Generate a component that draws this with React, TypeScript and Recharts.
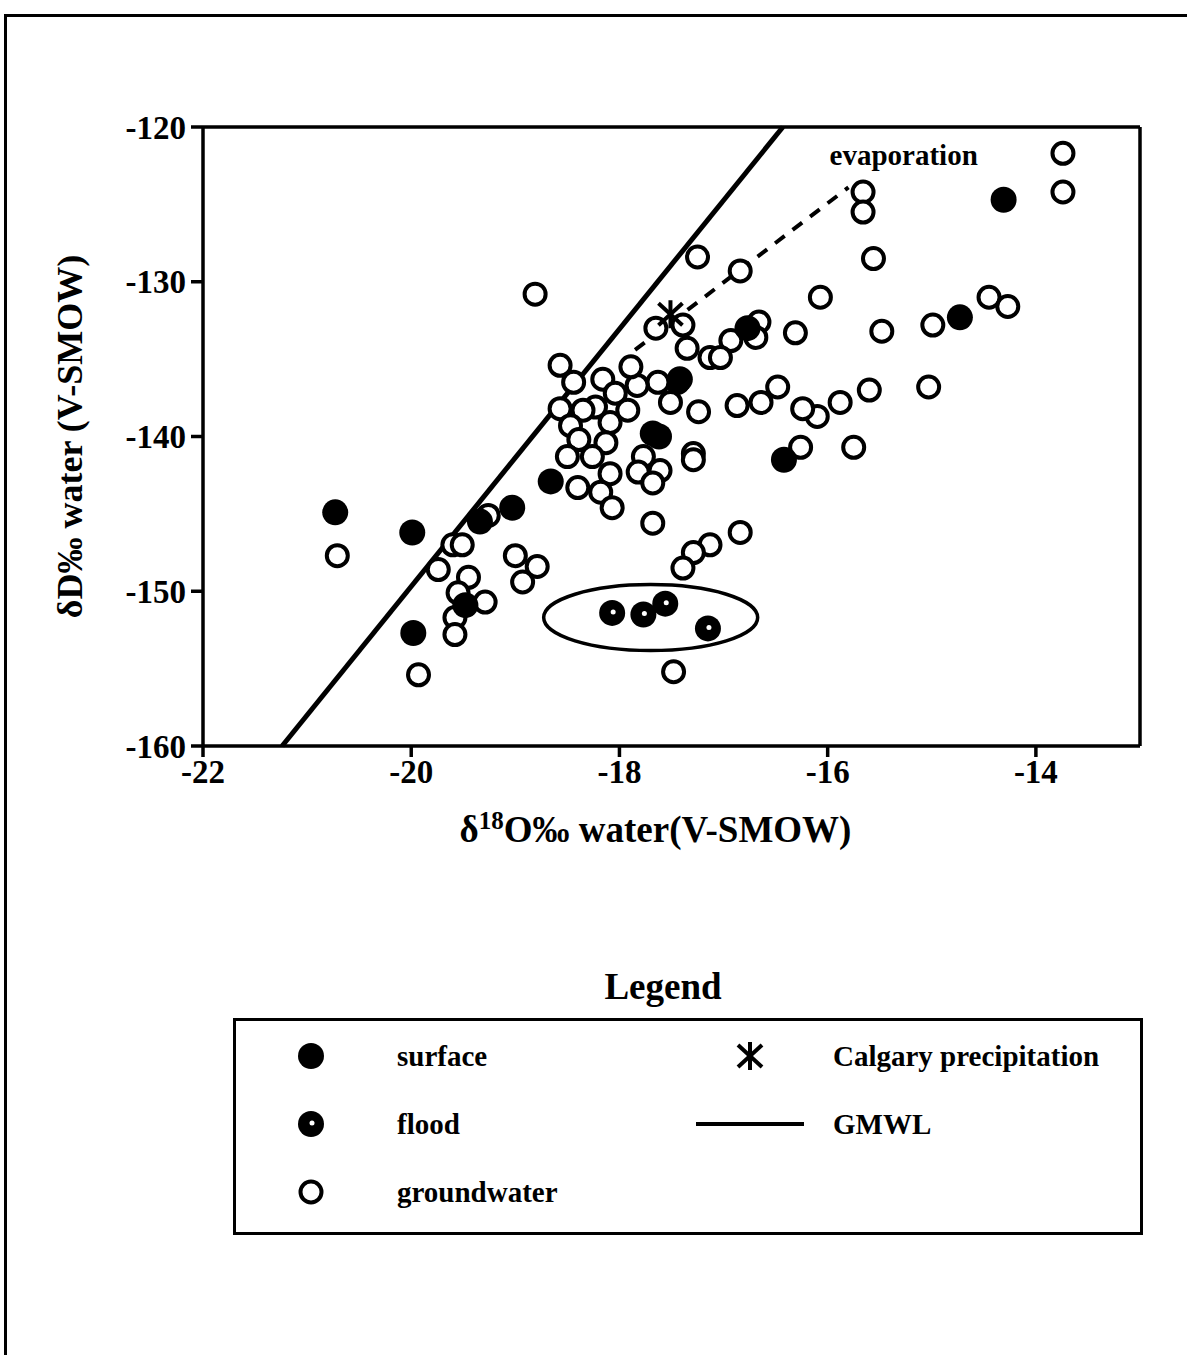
import { ScatterChart, Scatter, XAxis, YAxis, ReferenceLine, ReferenceDot } from 'recharts';

const FONT = '"Liberation Serif", "Times New Roman", serif';

// δ18O (x) and δD (y), ‰ V-SMOW
const surface = [
  { x: -20.73, y: -144.9 }, { x: -19.99, y: -146.2 }, { x: -19.34, y: -145.5 },
  { x: -19.03, y: -144.6 }, { x: -19.48, y: -150.9 }, { x: -19.98, y: -152.7 },
  { x: -18.66, y: -142.9 }, { x: -17.68, y: -139.8 }, { x: -17.62, y: -140.0 },
  { x: -17.42, y: -136.3 }, { x: -16.77, y: -133.0 }, { x: -16.42, y: -141.5 },
  { x: -14.73, y: -132.3 }, { x: -14.31, y: -124.7 },
];

const flood = [
  { x: -18.07, y: -151.4 }, { x: -17.77, y: -151.5 },
  { x: -17.56, y: -150.8 }, { x: -17.15, y: -152.4 },
];

const groundwater = [
  { x: -13.74, y: -121.7 }, { x: -13.74, y: -124.2 }, { x: -15.66, y: -124.2 },
  { x: -15.66, y: -125.5 }, { x: -15.56, y: -128.5 }, { x: -17.25, y: -128.4 },
  { x: -16.84, y: -129.3 }, { x: -18.81, y: -130.8 }, { x: -16.07, y: -131.0 },
  { x: -14.45, y: -131.0 }, { x: -14.27, y: -131.6 }, { x: -14.99, y: -132.8 },
  { x: -15.48, y: -133.2 }, { x: -16.31, y: -133.3 }, { x: -16.66, y: -132.6 },
  { x: -16.69, y: -133.6 }, { x: -16.93, y: -133.8 }, { x: -17.13, y: -134.9 },
  { x: -17.03, y: -134.9 }, { x: -17.35, y: -134.3 }, { x: -17.65, y: -133.0 },
  { x: -17.39, y: -132.8 }, { x: -15.6, y: -137.0 }, { x: -15.03, y: -136.8 },
  { x: -15.88, y: -137.8 }, { x: -15.75, y: -140.7 }, { x: -16.26, y: -140.7 },
  { x: -16.1, y: -138.7 }, { x: -16.24, y: -138.2 }, { x: -16.48, y: -136.8 },
  { x: -16.64, y: -137.8 }, { x: -16.87, y: -138.0 }, { x: -17.24, y: -138.4 },
  { x: -17.29, y: -141.1 }, { x: -17.29, y: -141.5 }, { x: -17.44, y: -136.5 },
  { x: -17.63, y: -136.5 }, { x: -17.51, y: -137.8 }, { x: -17.83, y: -136.7 },
  { x: -17.89, y: -135.5 }, { x: -18.16, y: -136.3 }, { x: -18.04, y: -137.2 },
  { x: -17.92, y: -138.3 }, { x: -18.23, y: -138.1 }, { x: -18.44, y: -136.5 },
  { x: -18.57, y: -135.4 }, { x: -18.57, y: -138.2 }, { x: -18.35, y: -138.3 },
  { x: -18.47, y: -139.3 }, { x: -18.09, y: -139.1 }, { x: -18.39, y: -140.2 },
  { x: -18.13, y: -140.4 }, { x: -18.5, y: -141.3 }, { x: -18.26, y: -141.3 },
  { x: -18.09, y: -142.4 }, { x: -17.77, y: -141.3 }, { x: -17.82, y: -142.3 },
  { x: -17.61, y: -142.2 }, { x: -17.68, y: -143.0 }, { x: -18.4, y: -143.3 },
  { x: -18.18, y: -143.6 }, { x: -18.07, y: -144.6 }, { x: -17.68, y: -145.6 },
  { x: -16.84, y: -146.2 }, { x: -17.13, y: -147.0 }, { x: -17.29, y: -147.5 },
  { x: -17.39, y: -148.5 }, { x: -17.48, y: -155.2 }, { x: -20.71, y: -147.7 },
  { x: -19.6, y: -147.0 }, { x: -19.51, y: -147.0 }, { x: -19.26, y: -145.1 },
  { x: -19.74, y: -148.6 }, { x: -19.45, y: -149.1 }, { x: -19.55, y: -150.1 },
  { x: -19.29, y: -150.7 }, { x: -19.58, y: -151.7 }, { x: -19.58, y: -152.8 },
  { x: -19.93, y: -155.4 }, { x: -19.0, y: -147.7 }, { x: -18.79, y: -148.4 },
  { x: -18.93, y: -149.4 },
];

const calgary = [{ x: -17.51, y: -132.1 }];

const gmwl = [{ x: -21.24, y: -160 }, { x: -16.43, y: -120 }];
const evaporationLine = [{ x: -17.85, y: -134.4 }, { x: -15.8, y: -123.9 }];
const evaporationLabel = { x: -15.27, y: -121.8 };
const floodGroup = { x: -17.7, y: -151.7 };

const xTicks = [-22, -20, -18, -16, -14];
const yTicks = [-160, -150, -140, -130, -120];

const legendLeft = [
  { name: 'surface', mark: 'surface' },
  { name: 'flood', mark: 'flood' },
  { name: 'groundwater', mark: 'groundwater' },
];
const legendRight = [
  { name: 'Calgary precipitation', mark: 'calgary' },
  { name: 'GMWL', mark: 'gmwl' },
];

const OpenDot = (p: any) => (
  <circle cx={p.cx} cy={p.cy} r={10.5} fill="#fff" stroke="#000" strokeWidth={4} />
);
const FilledDot = (p: any) => <circle cx={p.cx} cy={p.cy} r={13} fill="#000" />;
const FloodDot = (p: any) => (
  <g>
    <circle cx={p.cx} cy={p.cy} r={13} fill="#000" />
    <circle cx={p.cx + 1} cy={p.cy - 1} r={2.5} fill="#fff" />
  </g>
);
const StarMark = (p: any) => (
  <g stroke="#000" strokeWidth={4}>
    <line x1={p.cx} y1={p.cy - 14} x2={p.cx} y2={p.cy + 14} />
    <line x1={p.cx - 12} y1={p.cy - 11} x2={p.cx + 12} y2={p.cy + 11} />
    <line x1={p.cx - 12} y1={p.cy + 11} x2={p.cx + 12} y2={p.cy - 11} />
  </g>
);

function LegendMark({ mark }: { mark: string }) {
  const p = { cx: 60, cy: 20 };
  return (
    <svg width={120} height={40} style={{ display: 'block' }}>
      {mark === 'surface' && <FilledDot {...p} />}
      {mark === 'flood' && <FloodDot {...p} />}
      {mark === 'groundwater' && <OpenDot {...p} />}
      {mark === 'calgary' && <StarMark {...p} />}
      {mark === 'gmwl' && <line x1={6} y1={20} x2={114} y2={20} stroke="#000" strokeWidth={4} />}
    </svg>
  );
}

const tickStyle = { fontFamily: FONT, fontSize: 33, fontWeight: 'bold', fill: '#000' };

export default function App() {
  return (
    <div style={{ position: 'absolute', left: 0, top: 0, width: 1187, height: 1355, background: '#fff', overflow: 'hidden' }}>
      {/* page frame */}
      <div style={{ position: 'absolute', left: 4, top: 14, width: 1300, height: 1400, border: '3px solid #000' }} />

      <div style={{ position: 'absolute', left: 0, top: 0 }}>
        <ScatterChart width={1187} height={860} margin={{ top: 127, right: 47, left: 113, bottom: 0 }}>
          <XAxis
            type="number"
            dataKey="x"
            domain={[-22, -13]}
            ticks={xTicks}
            allowDataOverflow
            stroke="#000"
            strokeWidth={3.5}
            tickSize={11}
            tickMargin={3}
            tick={tickStyle}
            height={114}
            label={(props: any) => {
              const vb = props.viewBox;
              return (
                <text x={vb.x + vb.width / 2 - 16} y={vb.y + 96} textAnchor="middle"
                  style={{ fontFamily: FONT, fontSize: 37, fontWeight: 'bold' }} fill="#000">
                  δ<tspan fontSize={25} dy={-13}>18</tspan><tspan dy={13}>O‰ water(V-SMOW)</tspan>
                </text>
              );
            }}
          />
          <YAxis
            type="number"
            dataKey="y"
            domain={[-160, -120]}
            ticks={yTicks}
            allowDataOverflow
            stroke="#000"
            strokeWidth={3.5}
            tickSize={12}
            tickMargin={5}
            tick={tickStyle}
            width={90}
            label={(props: any) => {
              const vb = props.viewBox;
              const cx = vb.x - 43;
              const cy = vb.y + vb.height / 2;
              return (
                <text x={cx} y={cy} transform={`rotate(-90 ${cx} ${cy})`} textAnchor="middle"
                  dominantBaseline="central" style={{ fontFamily: FONT, fontSize: 36, fontWeight: 'bold' }} fill="#000">
                  δD‰ water (V-SMOW)
                </text>
              );
            }}
          />
          <ReferenceLine y={-120} stroke="#000" strokeWidth={3.5} />
          <ReferenceLine x={-13} stroke="#000" strokeWidth={3.5} />
          <ReferenceLine segment={gmwl} stroke="#000" strokeWidth={5} />
          <ReferenceLine segment={evaporationLine} stroke="#000" strokeWidth={4} strokeDasharray="12 10" />
          <ReferenceDot
            x={floodGroup.x}
            y={floodGroup.y}
            shape={(p: any) => (
              <ellipse cx={p.cx} cy={p.cy} rx={107} ry={33} fill="none" stroke="#000" strokeWidth={3.5} />
            )}
          />
          <ReferenceDot
            x={evaporationLabel.x}
            y={evaporationLabel.y}
            shape={(p: any) => (
              <text x={p.cx} y={p.cy} textAnchor="middle" dominantBaseline="central"
                style={{ fontFamily: FONT, fontSize: 29, fontWeight: 'bold' }} fill="#000">
                evaporation
              </text>
            )}
          />
          <Scatter name="groundwater" data={groundwater} shape={OpenDot} isAnimationActive={false} />
          <Scatter name="surface" data={surface} shape={FilledDot} isAnimationActive={false} />
          <Scatter name="flood" data={flood} shape={FloodDot} isAnimationActive={false} />
          <Scatter name="Calgary precipitation" data={calgary} shape={StarMark} isAnimationActive={false} />
        </ScatterChart>
      </div>

      {/* legend */}
      <div style={{ position: 'absolute', left: 563, top: 962, width: 200, textAlign: 'center', fontFamily: FONT, fontSize: 37, fontWeight: 'bold', lineHeight: '50px' }}>
        Legend
      </div>
      <div style={{ position: 'absolute', left: 233, top: 1018, width: 904, height: 211, border: '3px solid #000', fontFamily: FONT, fontSize: 29, fontWeight: 'bold' }}>
        {legendLeft.map((item, i) => (
          <div key={item.name} style={{ position: 'absolute', left: 0, top: 15 + i * 68, height: 40 }}>
            <div style={{ position: 'absolute', left: 15 }}><LegendMark mark={item.mark} /></div>
            <span style={{ position: 'absolute', left: 161, whiteSpace: 'nowrap', lineHeight: '40px', top: 0 }}>{item.name}</span>
          </div>
        ))}
        {legendRight.map((item, i) => (
          <div key={item.name} style={{ position: 'absolute', left: 0, top: 15 + i * 68, height: 40 }}>
            <div style={{ position: 'absolute', left: 454 }}><LegendMark mark={item.mark} /></div>
            <span style={{ position: 'absolute', left: 597, whiteSpace: 'nowrap', lineHeight: '40px', top: 0 }}>{item.name}</span>
          </div>
        ))}
      </div>
    </div>
  );
}
